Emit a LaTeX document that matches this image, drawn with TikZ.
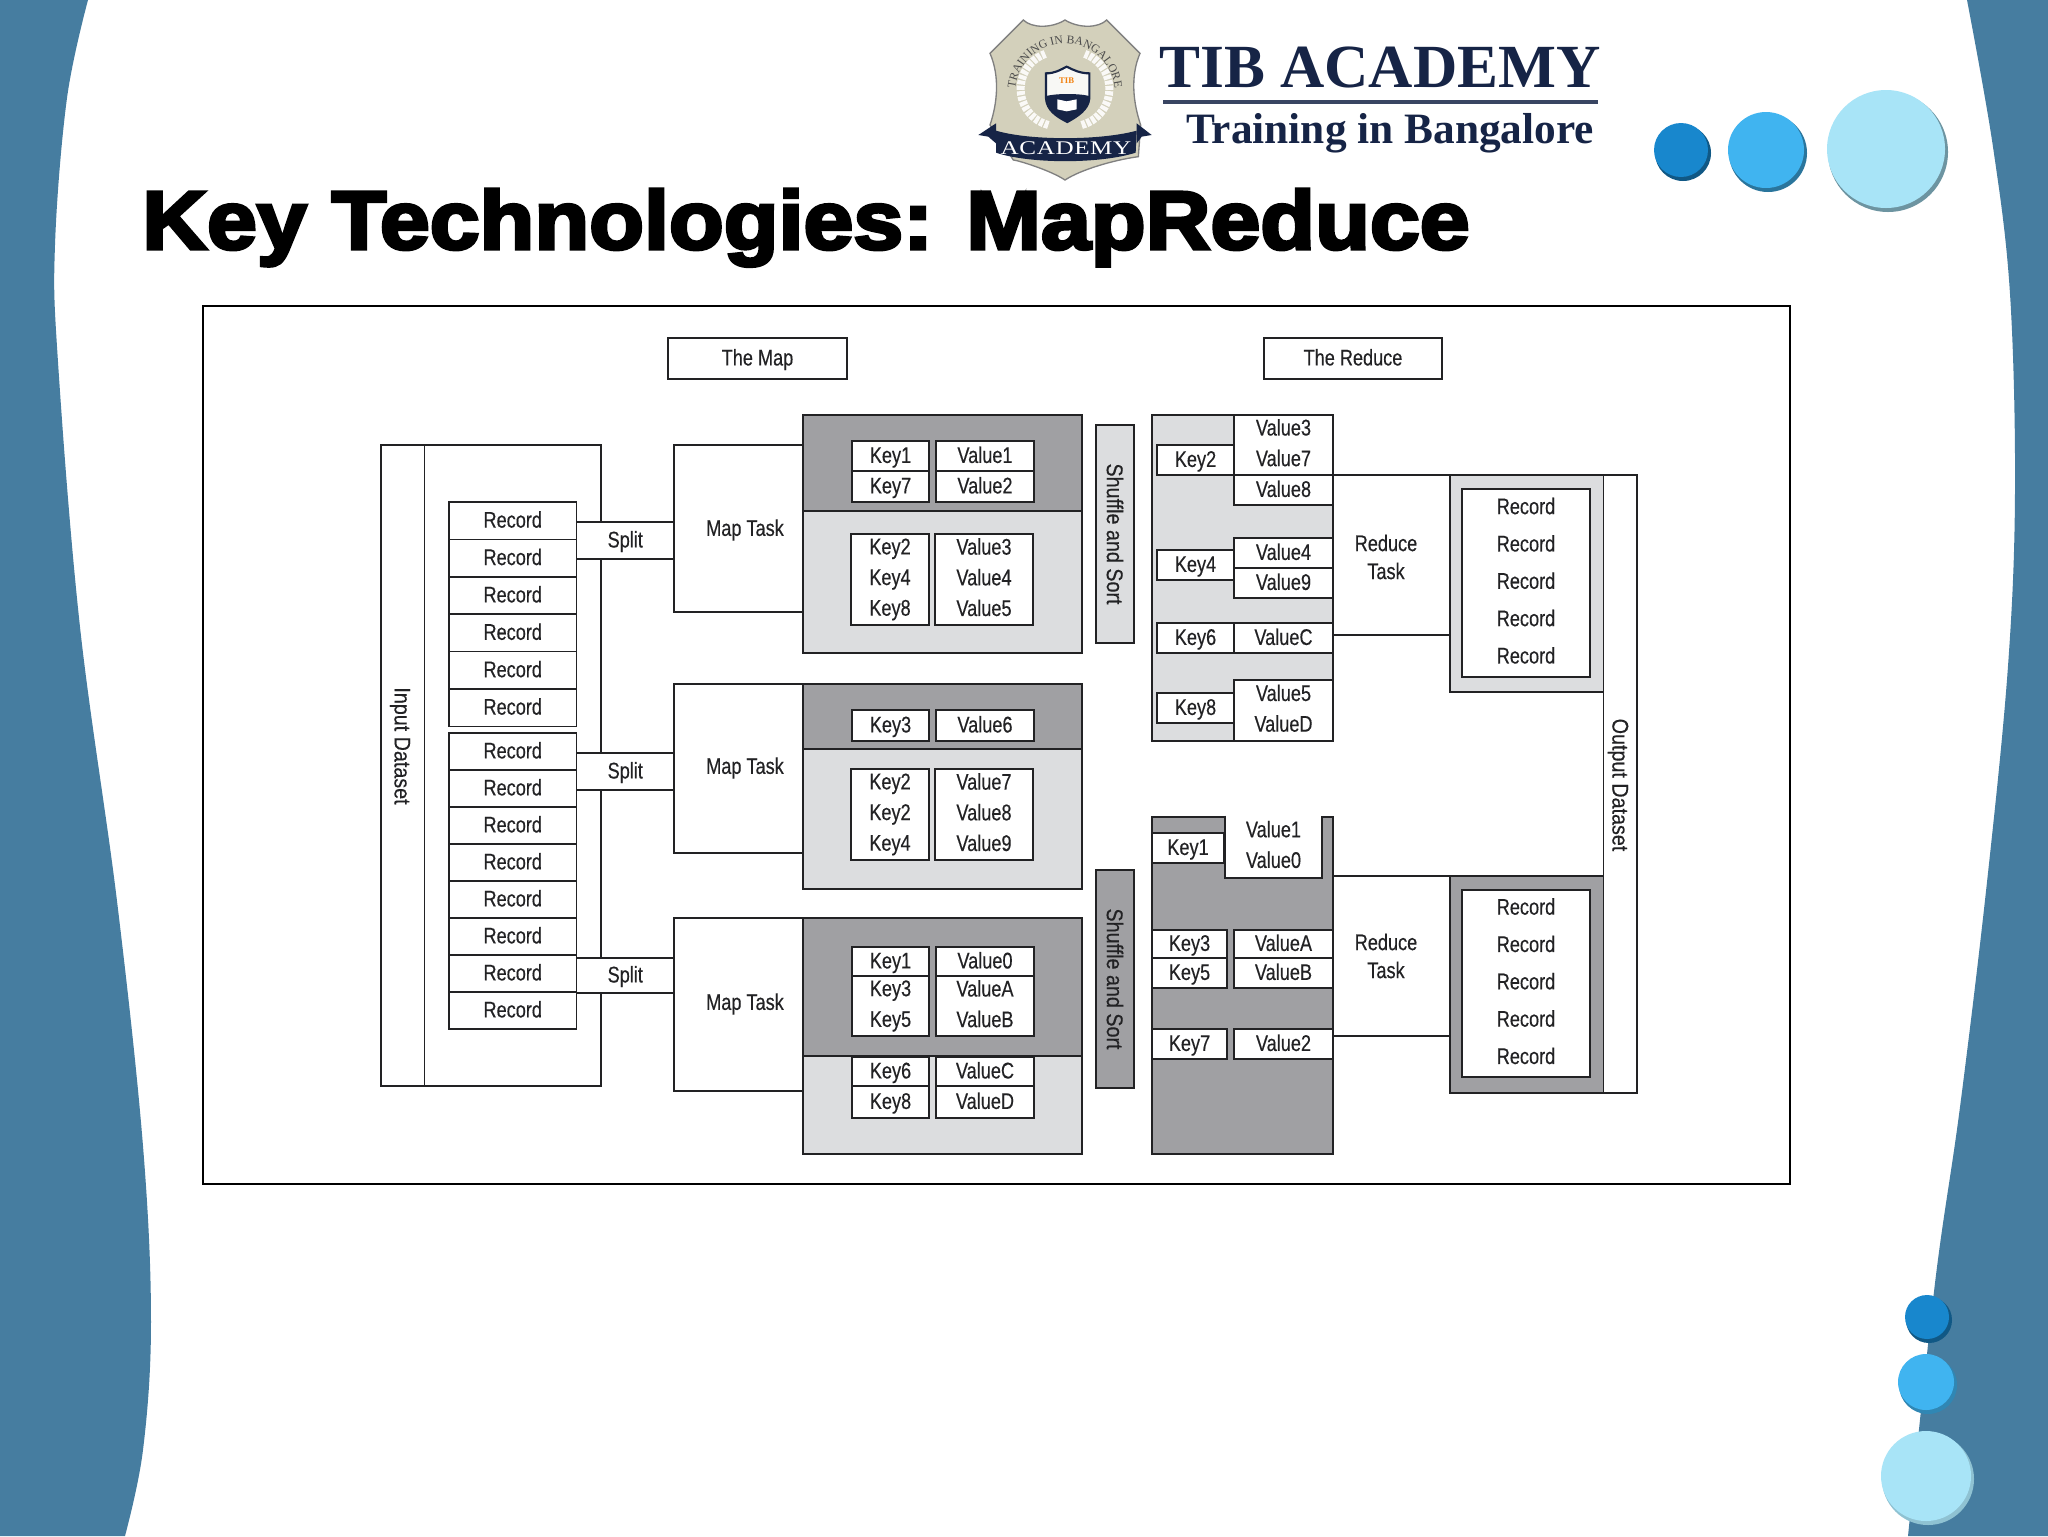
\documentclass[tikz,border=0pt]{standalone}
\usepackage{fontspec}
\usetikzlibrary{decorations.text}
\newfontfamily\condfont[FakeStretch=0.8,FakeBold=0.35]{Liberation Sans}
\newfontfamily\sidefont[FakeStretch=0.87,FakeBold=0.35]{Liberation Sans}
\newfontfamily\titlefont[UprightFont=* Bold,FakeBold=4,FakeStretch=1.085]{Liberation Sans}
\newfontfamily\logofont[UprightFont=* Bold]{Liberation Serif}
\newfontfamily\badgefont{Liberation Serif}
\newfontfamily\bannerfont[FakeStretch=1.3,LetterSpace=3]{Liberation Serif}
\newcommand{\boxfont}{\condfont\fontsize{17}{23}\selectfont}
% name, style, x0, y0, x1, y1, text
\newcommand{\pxbox}[7]{%
  \pgfmathsetmacro\boxw{(#5-#3)*0.75}%
  \pgfmathsetmacro\boxh{(#6-#4)*0.75}%
  \node[#2,minimum width=\boxw pt,minimum height=\boxh pt] (#1) at ({(#3+#5)/2},{(#4+#6)/2}) {#7};}
\definecolor{slideblue}{RGB}{70,125,160}
\definecolor{linegray}{RGB}{34,34,36}
\definecolor{darkpanel}{RGB}{160,160,163}
\definecolor{lightpanel}{RGB}{220,221,223}
\definecolor{logonavy}{RGB}{22,36,70}
\definecolor{badgetan}{RGB}{211,208,187}
\definecolor{dotone}{RGB}{24,135,205}
\definecolor{dottwo}{RGB}{64,180,240}
\definecolor{dotthree}{RGB}{168,228,247}
\tikzset{
  plainbox/.style={outer sep=0pt,inner sep=0pt,align=center,text=linegray,font=\boxfont,
    execute at begin node={\rule{0pt}{14pt}},execute at end node={\rule[-3.6pt]{0pt}{3.6pt}}},
  boxline/.style={plainbox,draw=linegray,line width=1.2pt},
  whitebox/.style={boxline,fill=white},
  darkbox/.style={boxline,fill=darkpanel},
  lightbox/.style={boxline,fill=lightpanel},
  tasklabel/.style={inner sep=0pt,align=center,text=linegray,font=\boxfont},
  sidelabel/.style={inner sep=0pt,text=linegray,font=\sidefont\fontsize{17}{23}\selectfont,rotate=-90},
  joinline/.style={linegray,line width=1.2pt},
}
\begin{document}
\begin{tikzpicture}[x=0.75pt,y=0.75pt,yscale=-1,xscale=1]
\useasboundingbox (0,0) rectangle (2048,1536);
%Shape: slide background
\fill[white] (0,0) rectangle (2048,1536);
\fill[slideblue] (0,0) -- plot[smooth,tension=.6] coordinates {(88,0) (67,98) (55,245) (58,362) (80,627) (117,901) (143,1146) (151,1322) (143,1450) (125,1536)} -- (0,1536) -- cycle;
\fill[slideblue] (2048,0) -- plot[smooth,tension=.6] coordinates {(1967,0) (1993,147) (2010,294) (2015,490) (2008,666) (1987,882) (1960,1107) (1935,1283) (1908,1536)} -- (2048,1536) -- cycle;
%Shape: dots
\foreach \dotx/\doty/\dotr/\dotcol/\dotrim in {1682/151/28/dotone/dotone!65!black,1767/151/39/dottwo/dottwo!65!black,1887/150/60/dotthree/dotthree!65!black,1928/1318/23/dotone/dotone!65!black,1927/1383/29/dottwo/dottwo!75!black,1927/1477/46/dotthree/dotthree!85!black} {
  \fill[\dotrim] (\dotx+1,\doty+2) circle (\dotr);
  \fill[\dotcol] (\dotx-1,\doty-1) circle (\dotr-1);
}

% Text Node
\node[anchor=base west,inner sep=0pt,font=\titlefont\fontsize{62}{62}\selectfont] (title) at (142,249) {Key Technologies: MapReduce};

%Shape: badge
\begin{scope}[shift={(970,10)},x=0.25pt,y=0.25pt]
  \filldraw[fill=badgetan,draw=gray,line width=1pt] (60,130) -- (160,30) .. controls (185,55) and (245,55) .. (285,30) .. controls (325,55) and (385,55) .. (410,30) -- (510,130) .. controls (480,200) and (490,280) .. (512,345) -- (505,440) .. controls (430,450) and (330,480) .. (285,510) .. controls (240,480) and (140,450) .. (130,450) -- (60,345) .. controls (82,280) and (90,200) .. (60,130) -- cycle;
  \draw[white!88!badgetan,line width=6pt,dash pattern=on 3pt off 1pt] (235,345) arc[start angle=105,end angle=250,radius=112];
  \draw[white!88!badgetan,line width=6pt,dash pattern=on 3pt off 1pt] (335,345) arc[start angle=75,end angle=-70,radius=112];
  \path[decorate,decoration={text along path,text align=center,text={|\badgefont\fontsize{8.8}{9}\selectfont\color{black!70}|TRAINING IN BANGALORE}}] (155,325) arc[start angle=150,end angle=390,radius=150];
  \filldraw[fill=white!85!badgetan,draw=logonavy,line width=1.6pt] (228,190) .. controls (255,190) and (270,180) .. (290,170) .. controls (310,180) and (330,190) .. (358,190) -- (358,265) .. controls (355,300) and (320,320) .. (292,336) .. controls (260,320) and (230,300) .. (228,265) -- cycle;
  \fill[logonavy] (228,258) .. controls (260,250) and (325,250) .. (358,258) .. controls (355,300) and (320,320) .. (292,336) .. controls (260,320) and (230,300) .. (228,258) -- cycle;
  \fill[white] (262,268) -- (290,274) -- (320,268) -- (320,298) -- (290,304) -- (262,298) -- cycle;
  \node[inner sep=0pt,text=orange!80!brown,font=\logofont\fontsize{6.5}{7}\selectfont] (badgetib) at (290,212) {TIB};
  \fill[logonavy] (78,340) -- (25,375) -- (55,380) -- (78,400) -- cycle;
  \fill[logonavy] (500,340) -- (545,375) -- (515,380) -- (500,400) -- cycle;
  \fill[logonavy] (78,362) .. controls (180,392) and (390,392) .. (500,362) -- (497,428) .. controls (390,462) and (180,462) .. (78,428) -- cycle;
  \node[inner sep=0pt,text=white,font=\bannerfont\fontsize{14.5}{15}\selectfont] (badgename) at (288,414) {ACADEMY};
\end{scope}
% Text Node
\node[anchor=base,inner sep=0pt,text=logonavy,font=\logofont\fontsize{46}{48}\selectfont] (logoname) at (1380,87) {TIB ACADEMY};
\draw[logonavy!85,line width=3pt] (1163,102) -- (1598,102);
\node[anchor=base,inner sep=0pt,text=logonavy,font=\logofont\fontsize{32.5}{33}\selectfont] (logoline) at (1390,143) {Training in Bangalore};

%Shape: frame
\pxbox{frame}{draw=black,line width=1.9pt,fill=white,outer sep=0pt}{203}{306}{1790}{1184}{}

\pxbox{themap}{whitebox}{668}{338}{847}{379}{The Map}
\pxbox{thereduce}{whitebox}{1264}{338}{1442}{379}{The Reduce}

%Shape: input side
\pxbox{inputset}{whitebox}{381}{445}{601}{1086}{}
\pxbox{inputbar}{whitebox}{381}{445}{424.5}{1086}{}
\node[sidelabel] (inputlabel) at (400,746) {Input Dataset};
\foreach \i in {1,...,6} {
  \pgfmathsetmacro\recy{502+37.4*(\i-1)}
  \pxbox{rec\i}{whitebox}{449}{\recy}{576.5}{\recy+37.4}{Record}
}
\foreach \i in {7,...,14} {
  \pgfmathsetmacro\recy{733+37*(\i-7)}
  \pxbox{rec\i}{whitebox}{449}{\recy}{576.5}{\recy+37}{Record}
}
\pxbox{splitA}{whitebox}{576.5}{522}{674}{559}{Split}
\pxbox{splitB}{whitebox}{576.5}{753}{674}{790}{Split}
\pxbox{splitC}{whitebox}{576.5}{958}{674}{993}{Split}

%Shape: map tasks
\pxbox{taskA}{whitebox}{674}{445}{803}{612}{}
\pxbox{taskB}{whitebox}{674}{684}{803}{853}{}
\pxbox{taskC}{whitebox}{674}{918}{803}{1091}{}
\node[tasklabel] (tasktextA) at (745,530) {Map Task};
\node[tasklabel] (tasktextB) at (745,768) {Map Task};
\node[tasklabel] (tasktextC) at (745,1004) {Map Task};

\pxbox{lightA}{lightbox}{803}{415}{1082}{653}{}
\pxbox{darkA}{darkbox}{803}{415}{1082}{511}{}
\pxbox{lightB}{lightbox}{803}{684}{1082}{889}{}
\pxbox{darkB}{darkbox}{803}{684}{1082}{749}{}
\pxbox{lightC}{lightbox}{803}{918}{1082}{1154}{}
\pxbox{darkC}{darkbox}{803}{918}{1082}{1056}{}

\pxbox{ka1}{whitebox}{852}{441}{929}{471}{Key1}
\pxbox{ka2}{whitebox}{852}{471}{929}{502}{Key7}
\pxbox{va1}{whitebox}{936}{441}{1034}{471}{Value1}
\pxbox{va2}{whitebox}{936}{471}{1034}{502}{Value2}
\pxbox{ka3}{whitebox}{851}{534}{929}{625}{Key2\\Key4\\Key8}
\pxbox{va3}{whitebox}{935}{534}{1033}{625}{Value3\\Value4\\Value5}
\pxbox{kb1}{whitebox}{852}{710}{929}{741}{Key3}
\pxbox{vb1}{whitebox}{936}{710}{1034}{741}{Value6}
\pxbox{kb2}{whitebox}{851}{769}{929}{860}{Key2\\Key2\\Key4}
\pxbox{vb2}{whitebox}{935}{769}{1033}{860}{Value7\\Value8\\Value9}
\pxbox{kc1}{whitebox}{852}{947}{929}{976}{Key1}
\pxbox{vc1}{whitebox}{936}{947}{1034}{976}{Value0}
\pxbox{kc2}{whitebox}{852}{976}{929}{1036}{Key3\\Key5}
\pxbox{vc2}{whitebox}{936}{976}{1034}{1036}{ValueA\\ValueB}
\pxbox{kc3}{whitebox}{852}{1057}{929}{1086}{Key6}
\pxbox{vc3}{whitebox}{936}{1057}{1034}{1086}{ValueC}
\pxbox{kc4}{whitebox}{852}{1086}{929}{1118}{Key8}
\pxbox{vc4}{whitebox}{936}{1086}{1034}{1118}{ValueD}

%Shape: shuffle bars
\pxbox{shufboxA}{lightbox}{1096}{425}{1134}{643}{}
\pxbox{shufboxB}{darkbox}{1096}{870}{1134}{1088}{}
\node[sidelabel] (shuflabelA) at (shufboxA) {Shuffle and Sort};
\node[sidelabel] (shuflabelB) at (shufboxB) {Shuffle and Sort};

%Shape: reduce panel one
\pxbox{redA}{lightbox}{1152}{415}{1333}{741}{}
\pxbox{kr2}{whitebox}{1157}{445}{1234}{475}{Key2}
\pxbox{vr37}{whitebox}{1234}{415}{1333}{475}{Value3\\Value7}
\pxbox{vr8}{whitebox}{1234}{475}{1333}{505}{Value8}
\pxbox{kr4}{whitebox}{1157}{550}{1234}{580}{Key4}
\pxbox{vr4}{whitebox}{1234}{538}{1333}{568}{Value4}
\pxbox{vr9}{whitebox}{1234}{568}{1333}{598}{Value9}
\pxbox{kr6}{whitebox}{1157}{623}{1234}{653}{Key6}
\pxbox{vrc}{whitebox}{1234}{623}{1333}{653}{ValueC}
\pxbox{kr8}{whitebox}{1157}{693}{1234}{723}{Key8}
\pxbox{vr5d}{whitebox}{1234}{680}{1333}{741}{Value5\\ValueD}

%Shape: reduce panel two
\pxbox{redB}{darkbox}{1152}{817}{1333}{1154}{}
\pxbox{notch}{plainbox,fill=white}{1225}{815.5}{1322}{878}{Value1\\Value0}
\draw[joinline] (notch.north west) -- (notch.south west) -- (notch.south east) -- (notch.north east);
\pxbox{kq1}{whitebox}{1152}{833}{1224}{863}{Key1}
\pxbox{kq3}{whitebox}{1152}{930}{1227}{958}{Key3}
\pxbox{kq5}{whitebox}{1152}{958}{1227}{988}{Key5}
\pxbox{vqa}{whitebox}{1234}{930}{1333}{958}{ValueA}
\pxbox{vqb}{whitebox}{1234}{958}{1333}{988}{ValueB}
\pxbox{kq7}{whitebox}{1152}{1029}{1227}{1059}{Key7}
\pxbox{vq2}{whitebox}{1234}{1029}{1333}{1059}{Value2}

%Shape: output side
\pxbox{outset}{whitebox}{1603.5}{475}{1637}{1093}{}
\node[sidelabel] (outlabel) at (1618,785) {Output Dataset};
\pxbox{recboxA}{lightbox}{1450}{475}{1603.5}{692}{}
\pxbox{recinA}{whitebox}{1462}{489}{1590}{677}{Record\\[5pt]Record\\[5pt]Record\\[5pt]Record\\[5pt]Record}
\pxbox{recboxB}{darkbox}{1450}{876}{1603.5}{1093}{}
\pxbox{recinB}{whitebox}{1462}{890}{1590}{1077}{Record\\[5pt]Record\\[5pt]Record\\[5pt]Record\\[5pt]Record}
\node[tasklabel] (reducetextA) at (1386,557) {Reduce\\[-2pt]Task};
\node[tasklabel] (reducetextB) at (1386,956) {Reduce\\[-2pt]Task};

%Straight Lines
\draw[joinline] (vr37.south east) -- (recboxA.north west);
\draw[joinline] ([yshift=-2.2pt]vrc.east) -- ([yshift=-2.2pt]vrc.east -| recboxA.west);
\draw[joinline] (recboxB.north west -| redB.east) -- (recboxB.north west);
\draw[joinline] ([yshift=-6pt]vq2.east) -- ([yshift=-6pt]vq2.east -| recboxB.west);
\end{tikzpicture}
\end{document}
